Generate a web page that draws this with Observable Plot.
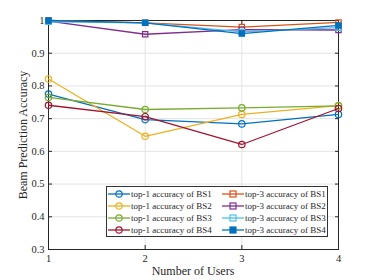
<!DOCTYPE html>
<html><head><meta charset="utf-8">
<script src="https://cdn.jsdelivr.net/npm/d3@7"></script>
<script src="https://cdn.jsdelivr.net/npm/@observablehq/plot@0.6"></script>
<style>
body{margin:0;background:#fff;}
#wrap{position:relative;width:374px;height:280px;font-family:"Liberation Serif","Times New Roman",serif;}
#legend{position:absolute;left:106px;top:186px;width:220px;height:49px;border:1px solid #333;background:#fff;box-sizing:content-box;}
#legend .item{position:absolute;font-size:9px;line-height:12px;color:#262626;white-space:nowrap;}
</style></head>
<body><div id="wrap"><div id="legend"></div></div>
<script>
const users = [1, 2, 3, 4];
const seriesNames = [
  "top-1 accuracy of BS1","top-1 accuracy of BS2","top-1 accuracy of BS3","top-1 accuracy of BS4",
  "top-3 accuracy of BS1","top-3 accuracy of BS2","top-3 accuracy of BS3","top-3 accuracy of BS4"
];
const top1BS1 = [0.775, 0.697, 0.684, 0.713];
const top1BS2 = [0.821, 0.646, 0.713, 0.740];
const top1BS3 = [0.765, 0.728, 0.733, 0.739];
const top1BS4 = [0.741, 0.706, 0.621, 0.731];
const top3BS1 = [1.000, 0.993, 0.980, 0.994];
const top3BS2 = [0.998, 0.958, 0.972, 0.971];
const top3BS3 = [0.996, 0.993, 0.965, 0.978];
const top3BS4 = [1.000, 0.993, 0.960, 0.985];
const colors = ["#0072BD","#EDB120","#77AC30","#A2142F","#D95319","#7E2F8E","#4DBEEE","#0072BD"];
const symbols = ["circle","circle","circle","circle","square","square","square","square"];
const filled = [false,false,false,false,false,false,false,true];
const yTicks = [0.3,0.4,0.5,0.6,0.7,0.8,0.9,1];
const xTicks = [1,2,3,4];

const allValues = [top1BS1, top1BS2, top1BS3, top1BS4, top3BS1, top3BS2, top3BS3, top3BS4];
const data = [];
allValues.forEach((vals, s) => vals.forEach((v, i) => data.push({s, x: users[i], y: v})));

const marks = [
  Plot.gridY(yTicks, {stroke: "#e3e3e3", strokeOpacity: 1}),
  Plot.gridX(xTicks, {stroke: "#e3e3e3", strokeOpacity: 1}),
  Plot.frame({stroke: "#262626", strokeWidth: 1}),
  Plot.axisY(yTicks, {anchor: "left", tickSize: -4, tickPadding: 8, tickFormat: d => d === 1 ? "1" : d3.format(".1f")(d), fontSize: 10.5, color: "#262626", label: null}),
  Plot.axisY(yTicks, {anchor: "right", tickSize: -4, tickFormat: null, text: null, label: null, color: "#262626"}),
  Plot.axisX(xTicks, {anchor: "bottom", tickSize: -4, tickPadding: 9, fontSize: 10.5, color: "#262626", label: null}),
  Plot.axisX(xTicks, {anchor: "top", tickSize: -4, text: null, label: null, color: "#262626"})
];
allValues.forEach((vals, s) => {
  const d = data.filter(p => p.s === s);
  marks.push(Plot.line(d, {x: "x", y: "y", stroke: colors[s], strokeWidth: 1.3}));
  marks.push(Plot.dot(d, {x: "x", y: "y", symbol: symbols[s], r: symbols[s] === "circle" ? 3.2 : 3.0,
    stroke: colors[s], strokeWidth: 1.2, fill: filled[s] ? colors[s] : "none"}));
});

const chart = Plot.plot({
  width: 374, height: 280,
  marginLeft: 48, marginRight: 36, marginTop: 20, marginBottom: 31,
  style: {fontFamily: "Liberation Serif, Times New Roman, serif", background: "#fff"},
  x: {domain: [1, 4]},
  y: {domain: [0.3, 1]},
  marks
});
document.getElementById("wrap").prepend(chart);

// axis titles
const svg = d3.select(chart);
svg.append("text").attr("x", 193).attr("y", 275).attr("text-anchor", "middle")
  .attr("font-size", 12).attr("fill", "#262626").text("Number of Users");
svg.append("text").attr("transform", "translate(27,135) rotate(-90)").attr("text-anchor", "middle")
  .attr("font-size", 12).attr("fill", "#262626").text("Beam Prediction Accuracy");

// legend
const legend = document.getElementById("legend");
seriesNames.forEach((name, s) => {
  const col = Math.floor(s / 4), row = s % 4;
  const div = document.createElement("div");
  div.className = "item";
  div.style.left = (col * 114 + 1) + "px";
  div.style.top = (row * 12 + 1) + "px";
  const sym = symbols[s] === "circle"
    ? `<circle cx="11" cy="6" r="3.2" stroke="${colors[s]}" stroke-width="1.2" fill="none"/>`
    : `<rect x="8" y="3" width="6" height="6" stroke="${colors[s]}" stroke-width="1.2" fill="${filled[s] ? colors[s] : 'none'}"/>`;
  div.innerHTML = `<svg width="22" height="12" style="vertical-align:top"><line x1="0" x2="22" y1="6" y2="6" stroke="${colors[s]}" stroke-width="1.3"/>${sym}</svg><span style="margin-left:1px">${name}</span>`;
  legend.appendChild(div);
});
</script></body></html>
